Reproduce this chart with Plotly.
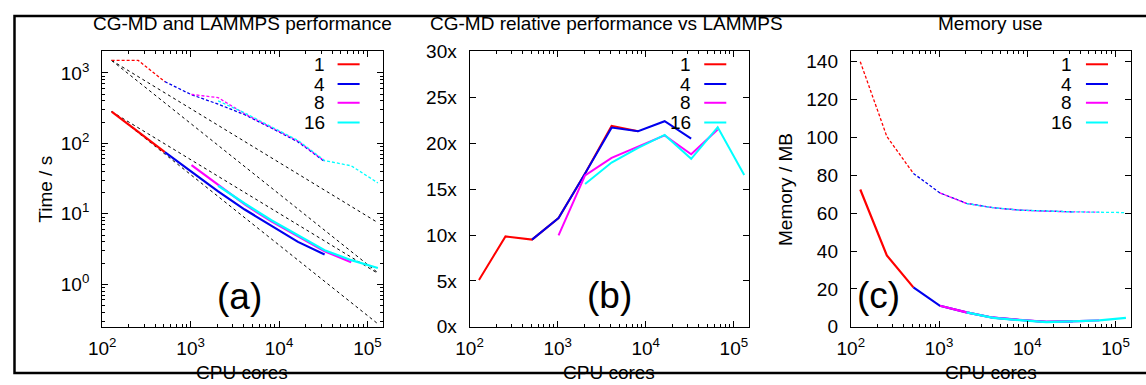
import plotly.graph_objects as go

# ---------------- data ----------------
cores = [128, 256, 512, 1024, 2048, 4096, 8192, 16384, 32768, 65536, 131072]
series_names = ["1", "4", "8", "16"]
series_colors = ["#ff0000", "#0000ee", "#ff00ff", "#00ffff"]
# index (into cores) at which each series starts
start_idx = {"1": 0, "4": 2, "8": 3, "16": 4}

# (a) CG-MD time / s (solid)
cg_time_1 = [282, 145, 75]
cg_time_4 = [75, 40, 20.8, 11.5, 6.8, 4.0, 2.65]
cg_time_8 = [49, 25.5, 13.6, 7.8, 4.8, 2.95, 2.05]
cg_time_16 = [25, 14.0, 8.1, 4.95, 3.05, 2.2, 1.7]
# (a) LAMMPS time / s (dashed)
lmp_time_1 = [1500, 1500, 750]
lmp_time_4 = [750, 490, 360, 255, 165, 105, 55]
lmp_time_8 = [495, 445, 262, 168, 108, 56]
lmp_time_16 = [400, 270, 172, 110, 57, 48, 27.5]
# (a) black dashed reference lines: value at 128 cores and at 131072 cores
ref_at_128 = [1500, 1500, 282, 282]
ref_at_131072 = [7.5, 1.46, 1.43, 0.275]

# (b) relative performance (x)
rel_1 = [5.1, 9.85, 9.5, 11.85, 16.7, 21.9, 21.3]
rel_4 = [9.5, 11.85, 16.7, 21.7, 21.3, 22.4, 20.5]
rel_8 = [9.95, 16.5, 18.4, 19.6, 20.85, 18.8, 21.5]
rel_16 = [15.55, 17.9, 19.5, 20.9, 18.3, 21.75, 16.55]

# (c) memory / MB, CG-MD (solid) and LAMMPS (dashed)
mem_cg_1 = [72.5, 37.7, 20.8]
mem_cg_4 = [20.8, 11.1, 7.6, 4.8, 3.6, 2.6, 2.9]
mem_cg_8 = [11.1, 7.6, 4.8, 3.6, 2.6, 2.9, 3.4]
mem_cg_16 = [7.6, 4.7, 3.5, 2.5, 2.9, 3.4, 4.7]
mem_lmp_1 = [140, 100.5, 81]
mem_lmp_4 = [81, 70.7, 65.2, 62.9, 61.6, 61.0, 60.7]
mem_lmp_8 = [70.7, 65.1, 62.9, 61.6, 61.0, 60.7, 60.5]
mem_lmp_16 = [65.1, 62.9, 61.6, 61.0, 60.7, 60.5, 60.3]

titles = ["CG-MD and LAMMPS performance", "CG-MD relative performance vs LAMMPS", "Memory use"]
panel_tags = ["(a)", "(b)", "(c)"]
x_tickvals = [100, 1000, 10000, 100000]
x_ticktext = ["10<sup>2</sup>", "10<sup>3</sup>", "10<sup>4</sup>", "10<sup>5</sup>"]
y_a_tickvals = [1, 10, 100, 1000]
y_a_ticktext = ["10<sup>0</sup>", "10<sup>1</sup>", "10<sup>2</sup>", "10<sup>3</sup>"]

# ---------------- layout helpers ----------------
W, H = 1146, 385
FONT = "Liberation Sans, Arial, sans-serif"
FS = 19
# measured mapping from page pixels to the photographed picture:
# picture_x = 13 + 0.986 * page_x,  picture_y = 8 + 0.958 * page_y
AX, SX, AY, SY = 13.0, 0.986, 8.0, 0.958


def px(x):
    """paper x fraction for a target picture x pixel"""
    xv = (x - AX) / SX
    return min(max(xv, 0.5), W - 0.5) / W


def py(y):
    """paper y fraction for a target picture y pixel"""
    yv = (y - AY) / SY
    return 1 - min(max(yv, 0.5), H - 1.0) / H


def xs_for(name, n):
    s = start_idx[name]
    return cores[s:s + n]


fig = go.Figure()

cg_time = [cg_time_1, cg_time_4, cg_time_8, cg_time_16]
lmp_time = [lmp_time_1, lmp_time_4, lmp_time_8, lmp_time_16]
rel = [rel_1, rel_4, rel_8, rel_16]
mem_cg = [mem_cg_1, mem_cg_4, mem_cg_8, mem_cg_16]
mem_lmp = [mem_lmp_1, mem_lmp_4, mem_lmp_8, mem_lmp_16]

# (a) reference lines
for a, b in zip(ref_at_128, ref_at_131072):
    fig.add_trace(go.Scatter(x=[cores[0], cores[-1]], y=[a, b], mode="lines",
                             line=dict(color="black", width=1, dash="3px,3px"),
                             xaxis="x", yaxis="y", showlegend=False))
# (a) LAMMPS dashed
for name, col, vals in zip(series_names, series_colors, lmp_time):
    fig.add_trace(go.Scatter(x=xs_for(name, len(vals)), y=vals, mode="lines",
                             line=dict(color=col, width=1.3, dash="3px,2px"),
                             xaxis="x", yaxis="y", showlegend=False))
# (a) CG-MD solid
for name, col, vals in zip(series_names, series_colors, cg_time):
    fig.add_trace(go.Scatter(x=xs_for(name, len(vals)), y=vals, mode="lines",
                             line=dict(color=col, width=2.2),
                             xaxis="x", yaxis="y", showlegend=False))
# (b)
for name, col, vals in zip(series_names, series_colors, rel):
    fig.add_trace(go.Scatter(x=xs_for(name, len(vals)), y=vals, mode="lines",
                             line=dict(color=col, width=2),
                             xaxis="x2", yaxis="y2", showlegend=False))
# (c)
for name, col, vals in zip(series_names, series_colors, mem_lmp):
    fig.add_trace(go.Scatter(x=xs_for(name, len(vals)), y=vals, mode="lines",
                             line=dict(color=col, width=1.3, dash="3px,2px"),
                             xaxis="x3", yaxis="y3", showlegend=False))
for name, col, vals in zip(series_names, series_colors, mem_cg):
    fig.add_trace(go.Scatter(x=xs_for(name, len(vals)), y=vals, mode="lines",
                             line=dict(color=col, width=2.2),
                             xaxis="x3", yaxis="y3", showlegend=False))

# panel geometry (target picture pixels)
panels = [(101, 381), (467.7, 746.7), (848.3, 1127.7)]
top_px, bot_px = 50, 329
ydom = [py(bot_px), py(top_px)]

common = dict(showline=True, linecolor="black", linewidth=1, mirror="allticks",
              ticks="inside", ticklen=6, tickcolor="black", showgrid=False,
              zeroline=False, tickfont=dict(family=FONT, size=FS, color="black"))
xcommon = dict(type="log", range=[2, 5.172], tickvals=x_tickvals, ticktext=x_ticktext,
               minor=dict(ticks="inside", ticklen=3, tickcolor="black", dtick="D1", showgrid=False),
               ticklabelstandoff=4, **common)

layout = dict(
    autosize=True, margin=dict(l=0, r=0, t=0, b=0),
    paper_bgcolor="white", plot_bgcolor="white", showlegend=False,
    font=dict(family=FONT, size=FS, color="black"),
    xaxis=dict(domain=[px(panels[0][0]), px(panels[0][1])], anchor="y", **xcommon),
    xaxis2=dict(domain=[px(panels[1][0]), px(panels[1][1])], anchor="y2", **xcommon),
    xaxis3=dict(domain=[px(panels[2][0]), px(panels[2][1])], anchor="y3", **xcommon),
    yaxis=dict(domain=ydom, anchor="x", type="log", range=[-0.603, 3.304],
               tickvals=y_a_tickvals, ticktext=y_a_ticktext,
               minor=dict(ticks="inside", ticklen=3, tickcolor="black", dtick="D1", showgrid=False),
               ticklabelstandoff=8, **common),
    yaxis2=dict(domain=ydom, anchor="x2", range=[0, 30], dtick=5, ticksuffix="x",
                ticklabelstandoff=8, **common),
    yaxis3=dict(domain=ydom, anchor="x3", range=[0, 145.4], dtick=20,
                ticklabelstandoff=8, **common),
)
fig.update_layout(**layout)

ann = []
shapes = []
title_cx = [241, 604, 988]
for i, (l, r) in enumerate(panels):
    ann.append(dict(text=titles[i], x=px(title_cx[i]), y=py(22), xref="paper", yref="paper",
                    xanchor="center", yanchor="middle", showarrow=False,
                    font=dict(family=FONT, size=FS, color="black")))
    ann.append(dict(text="CPU cores", x=px((l + r) / 2), y=py(375), xref="paper", yref="paper",
                    xanchor="center", yanchor="middle", showarrow=False,
                    font=dict(family=FONT, size=FS, color="black")))
    # legend
    text_right = [325, 691, 1071][i]
    line_x0 = [336, 702, 1083][i]
    for name, col, yy in zip(series_names, series_colors, [63, 83, 102, 122]):
        ann.append(dict(text=name, x=px(text_right), y=py(yy), xref="paper", yref="paper",
                        xanchor="right", yanchor="middle", showarrow=False,
                        font=dict(family=FONT, size=FS, color="black")))
        shapes.append(dict(type="line", xref="paper", yref="paper",
                           x0=px(line_x0), x1=px(line_x0 + 22), y0=py(yy), y1=py(yy),
                           line=dict(color=col, width=2)))

tag_pos = [(238, 298), (607, 297), (876, 297)]
for tag, (tx, ty) in zip(panel_tags, tag_pos):
    ann.append(dict(text=tag, x=px(tx), y=py(ty), xref="paper", yref="paper",
                    xanchor="center", yanchor="middle", showarrow=False,
                    font=dict(family=FONT, size=37, color="black")))

ann.append(dict(text="Time / s", x=px(45), y=py(190), xref="paper", yref="paper",
                xanchor="center", yanchor="middle", showarrow=False, textangle=-90,
                font=dict(family=FONT, size=FS, color="black")))
ann.append(dict(text="Memory / MB", x=px(783), y=py(190), xref="paper", yref="paper",
                xanchor="center", yanchor="middle", showarrow=False, textangle=-90,
                font=dict(family=FONT, size=FS, color="black")))

# outer frame (right side lies outside the picture)
shapes.append(dict(type="rect", xref="paper", yref="paper", x0=px(7), x1=1.05,
                   y0=py(382), y1=py(14), line=dict(color="black", width=2.5), layer="above"))

fig.update_layout(annotations=ann, shapes=shapes)

# The plot div is pinned to the window's top-left corner at exactly the window size,
# so the page's default body margin does not shift the figure.
fig.write_html("out.html", config={"displayModeBar": False},
               default_width="1146px",
               default_height="385px; position:absolute; left:0px; top:0px")
